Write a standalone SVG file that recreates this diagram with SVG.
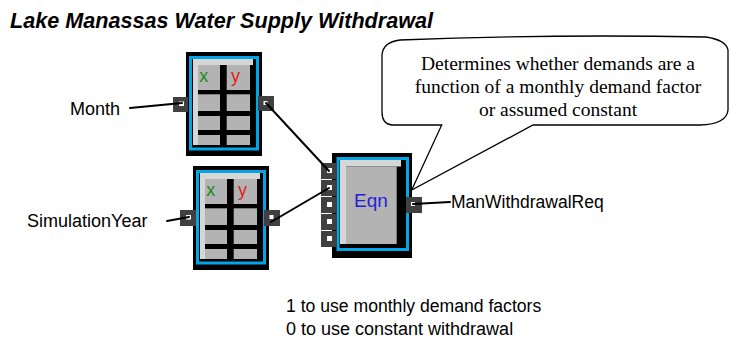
<svg xmlns="http://www.w3.org/2000/svg" xmlns:xlink="http://www.w3.org/1999/xlink" width="730" height="344" viewBox="0 0 730 344">
<style>
.sans{font-family:"Liberation Sans",Arial,sans-serif;fill:#000}
.serif{font-family:"Liberation Serif","Times New Roman",serif;fill:#000}
.frame{fill:#000}
.blue{fill:#000;stroke:#00a6e6;stroke-width:3}
.light{fill:#d6d6d6}
.cell{fill:#b3b3b3}
.port{fill:#404040}
.hole{fill:#fff}
.conn{stroke:#000;stroke-width:2;fill:none;stroke-linecap:round}
.bubble{fill:#fff;stroke:#000;stroke-width:1.3}
</style>
<defs>
<g id="tableBody">
<rect class="frame" x="0" y="0" width="76" height="104"/>
<rect class="blue" x="4.5" y="5.5" width="67" height="91.5"/>
<path class="light" d="M7,7 H67 V13 H12 V93 H7 Z"/>
<rect class="cell" x="12" y="13" width="22" height="25"/>
<rect class="cell" x="40.7" y="13" width="23.3" height="25"/>
<rect class="cell" x="12" y="42.3" width="22" height="16.7"/>
<rect class="cell" x="40.7" y="42.3" width="23.3" height="16.7"/>
<rect class="cell" x="12" y="64" width="22" height="14"/>
<rect class="cell" x="40.7" y="64" width="23.3" height="14"/>
<rect class="cell" x="12" y="83" width="22" height="10"/>
<rect class="cell" x="40.7" y="83" width="23.3" height="10"/>
<text class="sans" x="13.3" y="30" font-size="18" style="fill:#1a8c1a">x</text>
<text class="sans" x="45" y="30" font-size="18" style="fill:#e01e1e">y</text>
</g>
</defs>

<text class="sans" x="10" y="27.5" font-size="21.6" font-weight="bold" font-style="italic">Lake Manassas Water Supply Withdrawal</text>

<g id="callout">
<path class="bubble" d="M400,40 Q550,34 706,37 Q726,40 728,50 L728,110 Q727,124 700,125 L533,125 L411.7,190 L441.7,125 L392,125 Q382,124 382,112 L382,55 Q383,42 400,40 Z"/>
<text class="serif" font-size="19.5" text-anchor="middle" x="558" y="70">Determines whether demands are a</text>
<text class="serif" font-size="19.5" text-anchor="middle" x="558" y="93">function of a monthly demand factor</text>
<text class="serif" font-size="19.5" text-anchor="middle" x="558" y="116">or assumed constant</text>
</g>

<g id="month-table" transform="translate(186,52)">
<use xlink:href="#tableBody"/>
<rect class="port" x="-13" y="45" width="15" height="15"/>
<rect class="hole" x="-7" y="49.5" width="5" height="4.5"/>
<rect class="port" x="72" y="44" width="16" height="15"/>
<rect class="hole" x="77.5" y="49" width="4" height="4"/>
</g>

<g id="simyear-table" transform="translate(193,166)">
<use xlink:href="#tableBody"/>
<rect class="port" x="-13" y="44" width="16" height="16"/>
<rect class="hole" x="-7" y="49" width="5" height="4.5"/>
<rect class="port" x="71" y="44" width="16" height="16"/>
<rect class="hole" x="76.5" y="49" width="4" height="4"/>
</g>

<g id="eqn-node">
<rect class="frame" x="332" y="153" width="80" height="105"/>
<rect class="blue" x="338" y="158.5" width="69.5" height="91"/>
<path class="light" d="M340,160 H401 V166.5 H346 V244 H340 Z"/>
<rect class="cell" x="346" y="166.5" width="50.7" height="77.5"/>
<text class="sans" x="371" y="206.5" font-size="19" text-anchor="middle" style="fill:#1f1fd6">Eqn</text>
<rect class="port" x="321" y="163" width="16" height="16"/>
<rect class="hole" x="327" y="168" width="5" height="5"/>
<rect class="port" x="321" y="180" width="16" height="16"/>
<rect class="hole" x="327" y="185" width="5" height="5"/>
<rect class="port" x="321" y="197" width="16" height="16"/>
<rect class="hole" x="327" y="202" width="5" height="5"/>
<rect class="port" x="321" y="214" width="16" height="16"/>
<rect class="hole" x="327" y="219" width="5" height="5"/>
<rect class="port" x="321" y="231" width="16" height="16"/>
<rect class="hole" x="327" y="236" width="5" height="5"/>
<rect class="port" x="406" y="197" width="16" height="16"/>
<rect class="hole" x="411" y="202" width="4" height="4"/>
</g>

<g id="connectors">
<path class="conn" d="M130,108 L182,103"/>
<path class="conn" d="M167,221 L189,217"/>
<path class="conn" d="M266,103 L329,171"/>
<path class="conn" d="M271,222 L329,188"/>
<path class="conn" d="M413,204 L450,202"/>
</g>

<text class="sans" x="70" y="115" font-size="18">Month</text>
<text class="sans" x="27" y="227" font-size="18">SimulationYear</text>
<text class="sans" x="451" y="208" font-size="17.5">ManWithdrawalReq</text>
<text class="sans" x="286" y="312" font-size="17.6">1 to use monthly demand factors</text>
<text class="sans" x="286" y="335" font-size="18">0 to use constant withdrawal</text>
</svg>
